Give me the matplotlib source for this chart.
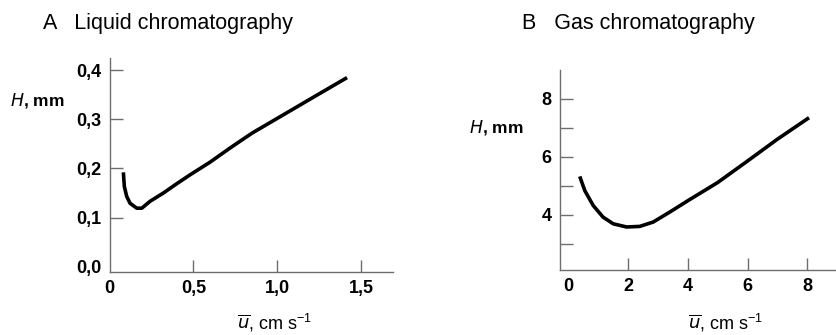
import matplotlib.pyplot as plt

plt.rcParams['font.family'] = 'Liberation Sans'

# plate height vs. mean linear velocity
lc_u = [0.082, 0.088, 0.102, 0.122, 0.162, 0.192, 0.241, 0.321, 0.401, 0.48,
        0.60, 0.72, 0.85, 1.00, 1.20, 1.416]
lc_h = [0.192, 0.163, 0.143, 0.129, 0.119, 0.119, 0.133, 0.150, 0.169, 0.187,
        0.213, 0.242, 0.272, 0.302, 0.342, 0.385]

gc_u = [0.38, 0.55, 0.83, 1.16, 1.50, 1.95, 2.39, 2.84, 3.39, 4.01, 5.0, 6.0, 7.0, 8.06]
gc_h = [5.32, 4.83, 4.32, 3.92, 3.69, 3.58, 3.60, 3.75, 4.09, 4.49, 5.11, 5.85, 6.60, 7.34]

lc_xticks = [0, 0.5, 1.0, 1.5]
lc_xlabels = ['0', '0,5', '1,0', '1,5']
lc_yticks = [0.0, 0.1, 0.2, 0.3, 0.4]
lc_ylabels = ['0,0', '0,1', '0,2', '0,3', '0,4']

gc_xticks = [0, 2, 4, 6, 8]
gc_yticks = [3, 4, 5, 6, 7, 8]
gc_ylabels = ['', '4', '', '6', '', '8']

spine_col = '#6e6e6e'
xlab = r'$\overline{u}$, cm s$^{\mathregular{-1}}$'
ylab = r'$H$, mm'

fig = plt.figure(figsize=(8.36, 3.35), dpi=100)
axA = fig.add_axes([0.1311, 0.188, 0.339, 0.639])
axB = fig.add_axes([0.6699, 0.194, 0.330, 0.597])


def style(ax):
    for s in ['top', 'right']:
        ax.spines[s].set_visible(False)
    for s in ['left', 'bottom']:
        ax.spines[s].set_color(spine_col)
        ax.spines[s].set_linewidth(1.0)
    ax.tick_params(direction='in', length=9, width=1.0, color=spine_col,
                   labelsize=13, pad=6)
    for lbl in ax.get_xticklabels() + ax.get_yticklabels():
        lbl.set_fontweight('bold')


# A: liquid chromatography
axA.plot(lc_u, lc_h, color='black', lw=2.6, solid_capstyle='butt',
         solid_joinstyle='round')
axA.set_xlim(0, 1.69)
axA.set_ylim(-0.011, 0.425)
axA.set_xticks(lc_xticks, lc_xlabels)
axA.set_yticks(lc_yticks, lc_ylabels)
style(axA)
axA.xaxis.get_major_ticks()[0].tick1line.set_visible(False)
axA.yaxis.get_major_ticks()[0].tick1line.set_visible(False)
fig.text(0.051, 0.93, 'A   Liquid chromatography', fontsize=15.5, va='center')
fig.text(0.045, 0.70, ylab, fontsize=12.5, fontweight='bold', ha='center', va='center')
fig.text(0.329, 0.036, xlab, fontsize=13, ha='center', va='center')

# B: gas chromatography
axB.plot(gc_u, gc_h, color='black', lw=2.6, solid_capstyle='butt',
         solid_joinstyle='round')
axB.set_xlim(-0.28, 8.96)
axB.set_ylim(2.1, 8.98)
axB.set_xticks(gc_xticks)
axB.set_yticks(gc_yticks, gc_ylabels)
style(axB)
axB.xaxis.get_major_ticks()[0].tick1line.set_visible(False)
fig.text(0.625, 0.93, 'B   Gas chromatography', fontsize=15.5, va='center')
fig.text(0.594, 0.618, ylab, fontsize=12.5, fontweight='bold', ha='center', va='center')
fig.text(0.868, 0.036, xlab, fontsize=13, ha='center', va='center')

fig.savefig('out.png', dpi=100)
